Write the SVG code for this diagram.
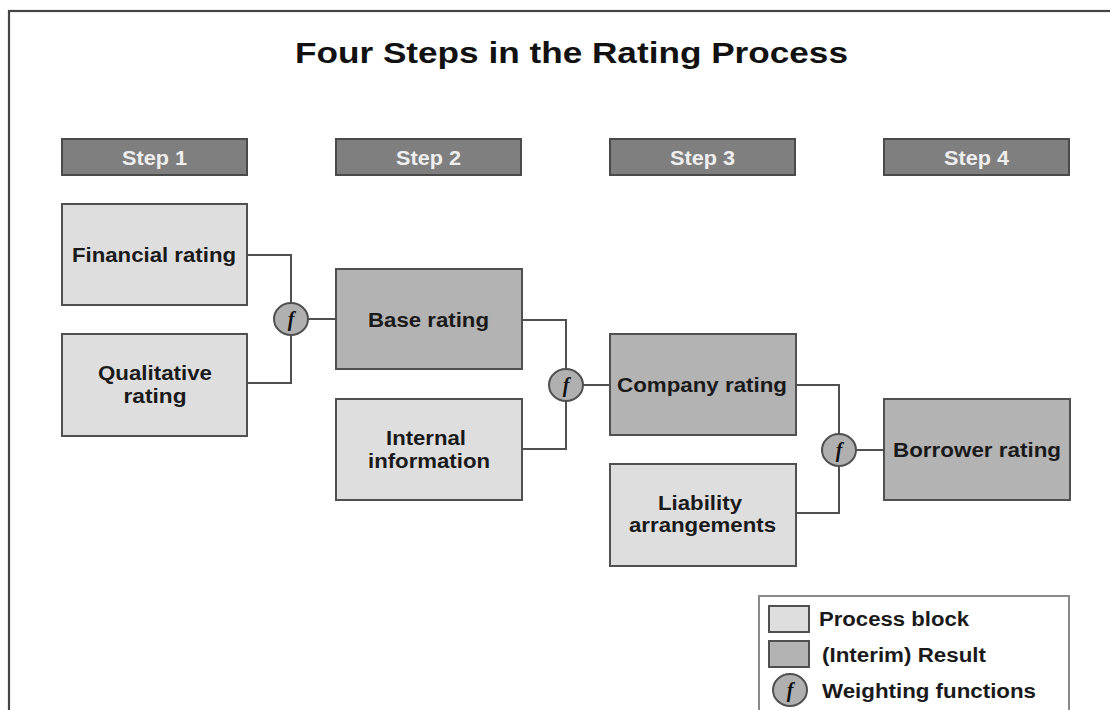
<svg xmlns="http://www.w3.org/2000/svg" width="1110" height="710" viewBox="0 0 1110 710">
  <style>
    .frame { fill: #ffffff; stroke: #454545; stroke-width: 2.2; }
    .step rect { fill: #7f7f7f; stroke: #4a4a4a; stroke-width: 2; }
    .step text { fill: #eeeeee; font-family: "Liberation Sans", Arial, sans-serif; font-weight: bold; font-size: 20px; text-anchor: middle; }
    .process rect { fill: #dedede; stroke: #505050; stroke-width: 2; }
    .result rect { fill: #b3b3b3; stroke: #505050; stroke-width: 2; }
    .label { fill: #1a1a1a; font-family: "Liberation Sans", Arial, sans-serif; font-weight: bold; font-size: 19.5px; text-anchor: middle; }
    .fn ellipse { fill: #b0b0b0; stroke: #505050; stroke-width: 2; }
    .fn text { fill: #111111; font-family: "Liberation Serif", "Times New Roman", serif; font-style: italic; font-weight: bold; font-size: 20px; text-anchor: middle; }
    .wire { fill: none; stroke: #505050; stroke-width: 2; }
    .legend-box { fill: #ffffff; stroke: #8a8a8a; stroke-width: 2; }
    .legend-text { fill: #1a1a1a; font-family: "Liberation Sans", Arial, sans-serif; font-weight: bold; font-size: 19.5px; }
    .title { fill: #111111; font-family: "Liberation Sans", Arial, sans-serif; font-weight: bold; font-size: 30px; text-anchor: middle; }
  </style>

  <!-- outer frame, running past the right and bottom edges -->
  <rect class="frame" x="9" y="11" width="1200" height="800"/>

  <text class="title" x="571.5" y="63" textLength="553" lengthAdjust="spacingAndGlyphs">Four Steps in the Rating Process</text>

  <!-- step headers -->
  <g id="step1" class="step"><rect x="62" y="139" width="185" height="36"/><text x="154.5" y="165" textLength="65" lengthAdjust="spacingAndGlyphs">Step 1</text></g>
  <g id="step2" class="step"><rect x="336" y="139" width="185" height="36"/><text x="428.5" y="165" textLength="65" lengthAdjust="spacingAndGlyphs">Step 2</text></g>
  <g id="step3" class="step"><rect x="610" y="139" width="185" height="36"/><text x="702.5" y="165" textLength="65" lengthAdjust="spacingAndGlyphs">Step 3</text></g>
  <g id="step4" class="step"><rect x="884" y="139" width="185" height="36"/><text x="976.5" y="165" textLength="65" lengthAdjust="spacingAndGlyphs">Step 4</text></g>

  <!-- connectors -->
  <g id="connectors">
    <path class="wire" d="M247 255 H291 V383 H247"/>
    <path class="wire" d="M308 319 H336"/>
    <path class="wire" d="M522 320 H566 V449 H522"/>
    <path class="wire" d="M583 385 H610"/>
    <path class="wire" d="M796 385 H839 V513 H796"/>
    <path class="wire" d="M856 450 H884"/>
  </g>

  <!-- step 1 -->
  <g id="financial-rating" class="process">
    <rect x="62" y="204" width="185" height="101"/>
    <text class="label" x="154" y="262" textLength="164" lengthAdjust="spacingAndGlyphs">Financial rating</text>
  </g>
  <g id="qualitative-rating" class="process">
    <rect x="62" y="334" width="185" height="102"/>
    <text class="label" x="155" y="380" textLength="114" lengthAdjust="spacingAndGlyphs">Qualitative</text>
    <text class="label" x="155" y="403" textLength="63" lengthAdjust="spacingAndGlyphs">rating</text>
  </g>
  <g id="fn1" class="fn">
    <ellipse cx="291" cy="319" rx="17" ry="16"/>
    <text x="291" y="326">f</text>
  </g>

  <!-- step 2 -->
  <g id="base-rating" class="result">
    <rect x="336" y="269" width="186" height="100"/>
    <text class="label" x="428.5" y="327" textLength="121" lengthAdjust="spacingAndGlyphs">Base rating</text>
  </g>
  <g id="internal-information" class="process">
    <rect x="336" y="399" width="186" height="101"/>
    <text class="label" x="426" y="445" textLength="80" lengthAdjust="spacingAndGlyphs">Internal</text>
    <text class="label" x="429" y="468" textLength="122" lengthAdjust="spacingAndGlyphs">information</text>
  </g>
  <g id="fn2" class="fn">
    <ellipse cx="566" cy="385" rx="17" ry="16"/>
    <text x="566" y="392">f</text>
  </g>

  <!-- step 3 -->
  <g id="company-rating" class="result">
    <rect x="610" y="334" width="186" height="101"/>
    <text class="label" x="702" y="392" textLength="170" lengthAdjust="spacingAndGlyphs">Company rating</text>
  </g>
  <g id="liability-arrangements" class="process">
    <rect x="610" y="464" width="186" height="102"/>
    <text class="label" x="700" y="510" textLength="84" lengthAdjust="spacingAndGlyphs">Liability</text>
    <text class="label" x="702.5" y="532" textLength="147" lengthAdjust="spacingAndGlyphs">arrangements</text>
  </g>
  <g id="fn3" class="fn">
    <ellipse cx="839" cy="450" rx="17" ry="16"/>
    <text x="839" y="457">f</text>
  </g>

  <!-- step 4 -->
  <g id="borrower-rating" class="result">
    <rect x="884" y="399" width="186" height="101"/>
    <text class="label" x="977" y="457" textLength="168" lengthAdjust="spacingAndGlyphs">Borrower rating</text>
  </g>

  <!-- legend -->
  <g id="legend">
    <rect class="legend-box" x="759" y="596" width="310" height="130"/>
    <g class="process"><rect x="769" y="606" width="40" height="26"/></g>
    <text class="legend-text" x="819" y="626" textLength="150" lengthAdjust="spacingAndGlyphs">Process block</text>
    <g class="result"><rect x="769" y="641" width="40" height="26"/></g>
    <text class="legend-text" x="822" y="662" textLength="164" lengthAdjust="spacingAndGlyphs">(Interim) Result</text>
    <g class="fn">
      <ellipse cx="790" cy="690" rx="17" ry="16"/>
      <text x="790" y="697">f</text>
    </g>
    <text class="legend-text" x="822" y="698" textLength="214" lengthAdjust="spacingAndGlyphs">Weighting functions</text>
  </g>
</svg>
